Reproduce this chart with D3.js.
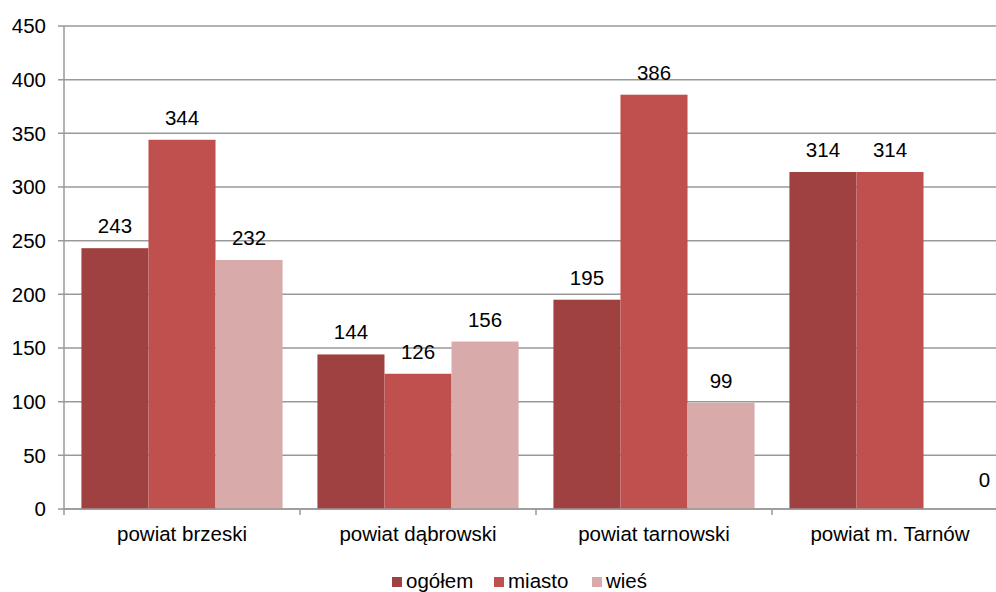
<!DOCTYPE html>
<html>
<head>
<meta charset="utf-8">
<script src="https://cdn.jsdelivr.net/npm/d3@7"></script>
<style>
  html, body { margin: 0; padding: 0; background: #fff; }
  svg { display: block; font-family: "Liberation Sans", Arial, sans-serif; }
</style>
</head>
<body>
<svg id="chart" width="996" height="592"></svg>
<script>
// Districts and the three population groups
const categories = ["powiat brzeski", "powiat dąbrowski", "powiat tarnowski", "powiat m. Tarnów"];
const seriesNames = ["ogółem", "miasto", "wieś"];
const ogolem = [243, 144, 195, 314];
const miasto = [344, 126, 386, 314];
const wies = [232, 156, 99, 0];
const yTicks = [0, 50, 100, 150, 200, 250, 300, 350, 400, 450];

const colors = ["#9E4140", "#C0504D", "#D9AAAA"];
const seriesValues = [ogolem, miasto, wies];
const fontSize = 20.5;
const width = 996;

const svg = d3.select("#chart");
const margin = { left: 64, top: 26, bottom: 509, right: 1008 };

const x0 = d3.scaleBand().domain(categories).range([margin.left, margin.right]).paddingInner(0).paddingOuter(0);
const x1 = d3.scaleBand().domain(seriesNames).range([0, x0.bandwidth()]).paddingInner(0).paddingOuter(0.26);
const y = d3.scaleLinear().domain([0, 450]).range([margin.bottom, margin.top]);

// Horizontal gridlines
svg.append("g")
  .selectAll("line")
  .data(yTicks)
  .join("line")
  .attr("x1", margin.left - 6)
  .attr("x2", width)
  .attr("y1", d => y(d))
  .attr("y2", d => y(d))
  .attr("stroke", "#999")
  .attr("stroke-width", 1.5);

// Y axis labels
svg.append("g")
  .selectAll("text")
  .data(yTicks)
  .join("text")
  .attr("x", 46)
  .attr("y", d => y(d))
  .attr("dy", "0.35em")
  .attr("text-anchor", "end")
  .attr("font-size", fontSize)
  .attr("fill", "#000")
  .text(d => d);

// Bars, grouped by district
const rows = categories.map((c, i) => seriesNames.map((s, k) => ({ c, s, k, v: seriesValues[k][i] })));

const groups = svg.append("g")
  .selectAll("g")
  .data(rows)
  .join("g")
  .attr("transform", (d, i) => `translate(${x0(categories[i])},0)`);

groups.selectAll("rect")
  .data(d => d)
  .join("rect")
  .attr("x", d => x1(d.s))
  .attr("width", x1.bandwidth())
  .attr("y", d => y(d.v))
  .attr("height", d => y(0) - y(d.v))
  .attr("fill", d => colors[d.k]);

// Value labels; an empty bar gets its label near the slot's right edge
groups.selectAll("text")
  .data(d => d)
  .join("text")
  .attr("x", d => d.v === 0
    ? x1(d.s) + x1.bandwidth() - 6
    : x1(d.s) + x1.bandwidth() / 2)
  .attr("y", d => y(d.v) - (d.v === 0 ? 22 : 15))
  .attr("text-anchor", "middle")
  .attr("font-size", fontSize)
  .attr("fill", "#000")
  .text(d => d.v);

// Axis lines
svg.append("line")
  .attr("x1", margin.left).attr("x2", margin.left)
  .attr("y1", margin.top).attr("y2", margin.bottom + 6)
  .attr("stroke", "#999").attr("stroke-width", 1.5);
svg.append("line")
  .attr("x1", margin.left).attr("x2", width)
  .attr("y1", margin.bottom).attr("y2", margin.bottom)
  .attr("stroke", "#999").attr("stroke-width", 1.5);

// X category tick marks
svg.append("g")
  .selectAll("line")
  .data(categories.slice(1))
  .join("line")
  .attr("x1", d => x0(d)).attr("x2", d => x0(d))
  .attr("y1", margin.bottom).attr("y2", margin.bottom + 6)
  .attr("stroke", "#999").attr("stroke-width", 1.5);

// Category labels
svg.append("g")
  .selectAll("text")
  .data(categories)
  .join("text")
  .attr("x", d => x0(d) + x0.bandwidth() / 2)
  .attr("y", 541)
  .attr("text-anchor", "middle")
  .attr("font-size", fontSize)
  .attr("fill", "#000")
  .text(d => d);

// Legend
const legendX = [392, 494, 592];
const legend = svg.append("g")
  .selectAll("g")
  .data(seriesNames)
  .join("g")
  .attr("transform", (d, i) => `translate(${legendX[i]},0)`);
legend.append("rect")
  .attr("x", 0).attr("y", 577)
  .attr("width", 10).attr("height", 10)
  .attr("fill", (d, i) => colors[i]);
legend.append("text")
  .attr("x", 14).attr("y", 588)
  .attr("font-size", fontSize)
  .attr("fill", "#000")
  .text(d => d);
</script>
</body>
</html>
